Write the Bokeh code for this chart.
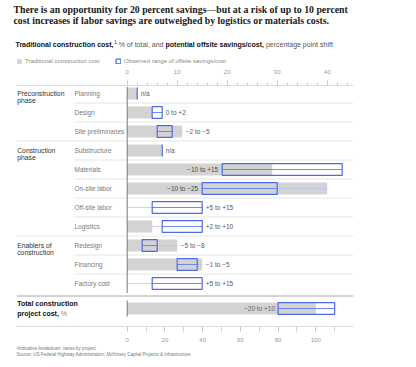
from bokeh.plotting import figure
from bokeh.layouts import column
from bokeh.models import (Range1d, LinearAxis, FixedTicker, Label, Legend,
                          LegendItem, ColumnDataSource)
from bokeh.core.properties import value
from bokeh.embed import file_html
from bokeh.resources import INLINE

# ---------------- data ----------------
rows = ["Planning", "Design", "Site preliminaries", "Substructure", "Materials",
        "On-site labor", "Off-site labor", "Logistics", "Redesign", "Financing",
        "Factory cost"]
row_group = [0, 0, 0, 1, 1, 1, 1, 1, 2, 2, 2]
group_names = [["Preconstruction", "phase"], ["Construction", "phase"],
               ["Enablers of", "construction"]]
traditional_cost = [2, 5, 11, 7, 29, 40, 0, 5, 10, 15, 0]
range_low = [2, 5, 6, 7, 19, 15, 5, 7, 3, 10, 5]
range_high = [2, 7, 9, 7, 43, 30, 15, 15, 6, 14, 15]
range_labels = ["n/a", "0 to +2", "\u22122 to \u22125", "n/a", "\u221210 to +15",
                "\u221210 to \u221225", "+5 to +15", "+2 to +10", "\u22125 to \u22128",
                "\u22121 to \u22125", "+5 to +15"]
label_inside = [False, False, False, False, True, True, False, False, False, False, False]

total_cost = [100]
total_low = [80]
total_high = [110]
total_label = ["\u221220 to +10"]

top_ticks = [0, 10, 20, 30, 40]
top_minor_ticks = list(range(0, 46, 2))
bottom_ticks = [0, 20, 40, 60, 80, 100]
bottom_minor_ticks = [10, 30, 50, 70, 90, 110, 120]

# ---------------- layout constants (page pixels) ----------------
W = 416
TOP_H = 64            # header figure: page y 0..64
CHART_T, CHART_B = 64, 345
FRAME_L, FRAME_R, FRAME_T, FRAME_B = 16, 353, 85, 326
ZERO_PX = 126.7
MAIN_PX_PER_UNIT = 5.0
TOTAL_PX_PER_UNIT = 1.886
ROW0_PX, ROW_PITCH, TOTAL_ROW_PX = 93, 19, 308

def xd(px):  # page px -> main data x
    return (px - ZERO_PX) / MAIN_PX_PER_UNIT

def yd(py):  # page px -> row units
    return (py - ROW0_PX) / ROW_PITCH

FONT = "Liberation Sans"
SERIF = "Liberation Serif"
GRAY_BAR = "#d3d3d3"
BLUE = "#4d6ae8"
LIGHT_BLUE = "#bac6f6"


def blank_fig(height):
    f = figure(width=W, height=height, x_range=Range1d(0, W),
               y_range=Range1d(height, 0), x_axis_location=None,
               y_axis_location=None, toolbar_location=None,
               output_backend="svg", min_border=0, frame_align=False)
    f.outline_line_color = None
    f.grid.grid_line_color = None
    return f


def lab(f, text, px, py, size, color="#222222", style="normal", font=FONT,
        baseline="alphabetic"):
    f.add_layout(Label(x=px, y=py, text=text, text_font=font,
                       text_font_size=size, text_color=color,
                       text_font_style=style, text_baseline=baseline,
                       text_align="left"))


# ================= header =================
ph = blank_fig(TOP_H)
lab(ph, "There is an opportunity for 20 percent savings\u2014but at a risk of up to 10 percent",
    13, 9.3, "9.8px", "#1a1a1a", "bold", SERIF)
lab(ph, "cost increases if labor savings are outweighed by logistics or materials costs.",
    13, 20, "9.8px", "#1a1a1a", "bold", SERIF)
lab(ph, "Traditional construction cost,", 15, 44, "7px", "#111111", "bold")
lab(ph, "1", 113.8, 41.2, "4.5px", "#111111")
lab(ph, "% of total, and", 118.2, 44, "7px", "#555555")
lab(ph, "potential offsite savings/cost,", 165, 44, "7px", "#111111", "bold")
lab(ph, "percentage point shift", 265.4, 44, "7px", "#555555")

# legend keys: glyphs with zero-size placeholder data, styled like the chart marks
leg_gray = ph.hbar(y=[-10], left=[0], right=[0], height=1, fill_color=GRAY_BAR,
                   line_color=None)
leg_box = ph.quad(left=[0], right=[0], top=[-10], bottom=[-10], fill_color=None,
                  line_color=BLUE, line_width=1.2)


def make_legend(lbl, r, vx):
    return Legend(items=[LegendItem(label=lbl, renderers=[r])], location=(vx, 0.5),
                  orientation="horizontal", glyph_width=6, glyph_height=6,
                  label_height=6, label_width=0, label_standoff=3, padding=0,
                  margin=0, spacing=0, border_line_color=None,
                  background_fill_alpha=0, label_text_font=FONT,
                  label_text_font_size="6px", label_text_color="#8a8a8a")


ph.add_layout(make_legend("Traditional construction cost", leg_gray, 16))
ph.add_layout(make_legend("Observed range of offsite savings/cost", leg_box, 115))

# ================= chart =================
p = figure(width=W, height=CHART_B - CHART_T,
           x_range=Range1d(xd(FRAME_L), xd(FRAME_R)),
           y_range=Range1d(yd(FRAME_B), yd(FRAME_T)),
           x_axis_location="above", y_axis_location=None,
           toolbar_location=None, output_backend="svg", frame_align=False,
           min_border_left=FRAME_L, min_border_right=W - FRAME_R,
           min_border_top=FRAME_T - CHART_T, min_border_bottom=CHART_B - FRAME_B)
p.extra_x_ranges = {"total": Range1d((FRAME_L - ZERO_PX) / TOTAL_PX_PER_UNIT,
                                     (FRAME_R - ZERO_PX) / TOTAL_PX_PER_UNIT)}
p.outline_line_color = None
p.grid.grid_line_color = None

n = len(rows)
idx = list(range(n))
total_y = yd(TOTAL_ROW_PX)
half_h = 0.31

# separators
sep_y, sep_x0 = [], []
for i in range(n - 1):
    sep_y.append(i + 0.5)
    sep_x0.append(xd(FRAME_L) if row_group[i] != row_group[i + 1] else xd(74))
p.segment(x0=sep_x0, x1=[xd(FRAME_R)] * len(sep_y), y0=sep_y, y1=sep_y,
          line_color="#e6e6e6", line_width=1)
mid = (n - 1 + total_y) / 2
p.segment(x0=[xd(FRAME_L)], x1=[xd(FRAME_R)], y0=[mid], y1=[mid],
          line_color="#a8a8a8", line_width=1)

# main rows
src = ColumnDataSource(dict(
    y=idx, base=traditional_cost, lo=range_low, hi=range_high,
    wl=[min(b, l) for b, l in zip(traditional_cost, range_low)],
    wh=[max(b, h) for b, h in zip(traditional_cost, range_high)],
    top=[i - half_h for i in idx], bottom=[i + half_h for i in idx]))
p.hbar(y="y", left=0, right="base", height=2 * half_h, source=src,
       fill_color=GRAY_BAR, line_color=None)
p.segment(x0="wl", x1="wh", y0="y", y1="y", source=src, line_color=LIGHT_BLUE, line_width=0.8)
p.segment(x0="lo", x1="hi", y0="y", y1="y", source=src, line_color=BLUE, line_width=0.7)
p.quad(left="lo", right="hi", top="top", bottom="bottom", source=src,
       fill_color=None, line_color=BLUE, line_width=1.2)

# zero line
p.segment(x0=[0], x1=[0], y0=[-0.35], y1=[n - 0.5], line_color="#777777", line_width=1)

# total row
tsrc = ColumnDataSource(dict(
    y=[total_y], base=total_cost, lo=total_low, hi=total_high,
    wl=[min(b, l) for b, l in zip(total_cost, total_low)],
    wh=[max(b, h) for b, h in zip(total_cost, total_high)],
    top=[total_y - half_h], bottom=[total_y + half_h]))
p.hbar(y="y", left=0, right="base", height=2 * half_h, source=tsrc,
       fill_color=GRAY_BAR, line_color=None, x_range_name="total")
p.segment(x0="wl", x1="wh", y0="y", y1="y", source=tsrc, line_color=LIGHT_BLUE,
          line_width=0.8, x_range_name="total")
p.segment(x0="lo", x1="hi", y0="y", y1="y", source=tsrc, line_color=BLUE,
          line_width=0.7, x_range_name="total")
p.quad(left="lo", right="hi", top="top", bottom="bottom", source=tsrc,
       fill_color=None, line_color=BLUE, line_width=1.2, x_range_name="total")
p.segment(x0=[0], x1=[0], y0=[total_y - 0.42], y1=[total_y + 0.42],
          line_color="#777777", line_width=1, x_range_name="total")

# value labels
out_i = [i for i in idx if not label_inside[i]]
in_i = [i for i in idx if label_inside[i]]
p.text(x=[max(traditional_cost[i], range_high[i]) for i in out_i], y=out_i,
       text=[range_labels[i] for i in out_i], x_offset=3.5,
       text_font=value(FONT), text_font_size="6.5px", text_color="#5a5a5a",
       text_align="left", text_baseline="middle")
p.text(x=[range_low[i] for i in in_i], y=in_i,
       text=[range_labels[i] for i in in_i], x_offset=-4,
       text_font=value(FONT), text_font_size="6.5px", text_color="#4a4a4a",
       text_align="right", text_baseline="middle")
p.text(x=total_low, y=[total_y], text=total_label, x_offset=-3,
       text_font=value(FONT), text_font_size="6.5px", text_color="#6a6a6a",
       text_align="right", text_baseline="middle", x_range_name="total")

# row labels
p.text(x=[xd(74)] * n, y=idx, text=rows, text_font=value(FONT),
       text_font_size="6.5px", text_color="#7a7a7a", text_align="left",
       text_baseline="middle")

# group labels
gx, gy, gt, goff = [], [], [], []
for g, names in enumerate(group_names):
    first = row_group.index(g)
    for k, t in enumerate(names):
        gx.append(xd(16.7)); gy.append(first); gt.append(t); goff.append(k * 7)
p.text(x=gx, y=gy, text=gt, y_offset=goff, text_font=value(FONT),
       text_font_size="6.8px", text_color="#333333", text_align="left",
       text_baseline="middle")

# total label
p.text(x=[xd(16.7), xd(16.7)], y=[total_y, total_y],
       text=["Total construction", "project cost,"], y_offset=[-4.7, 4.7],
       text_font=value(FONT), text_font_style="bold", text_font_size="7px",
       text_color="#111111", text_align="left", text_baseline="middle")
p.text(x=[xd(60.3)], y=[total_y], text=["%"], y_offset=[4.7],
       text_font=value(FONT), text_font_size="7px", text_color="#8a8a8a",
       text_align="left", text_baseline="middle")

# axes
ax = p.xaxis[0]
ax.ticker = FixedTicker(ticks=top_ticks, minor_ticks=top_minor_ticks)
bax = LinearAxis(x_range_name="total",
                 ticker=FixedTicker(ticks=bottom_ticks, minor_ticks=bottom_minor_ticks))
p.add_layout(bax, "below")
for a, minor_out, standoff in ((ax, 3, 7), (bax, 5, 6)):
    a.axis_line_color = "#dcdcdc"
    a.major_tick_line_color = "#c4c4c4"
    a.minor_tick_line_color = "#d0d0d0"
    a.major_tick_out = 5
    a.major_tick_in = 0
    a.minor_tick_out = minor_out
    a.minor_tick_in = 0
    a.major_label_text_font = FONT
    a.major_label_text_font_size = "6px"
    a.major_label_text_color = "#9a9a9a"
    a.major_label_standoff = standoff

# ================= footer =================
pf = blank_fig(367 - CHART_B)
lab(pf, "\u00b9Indicative breakdown; varies by project.", 16, 347.7 - CHART_B, "4.5px",
    "#777777", baseline="middle")
lab(pf, "Source: US Federal Highway Administration; McKinsey Capital Projects & Infrastructure",
    16, 354 - CHART_B, "4.5px", "#777777", baseline="middle")

layout = column(ph, p, pf, spacing=0)
open("out.html", "w").write(file_html(layout, INLINE))
